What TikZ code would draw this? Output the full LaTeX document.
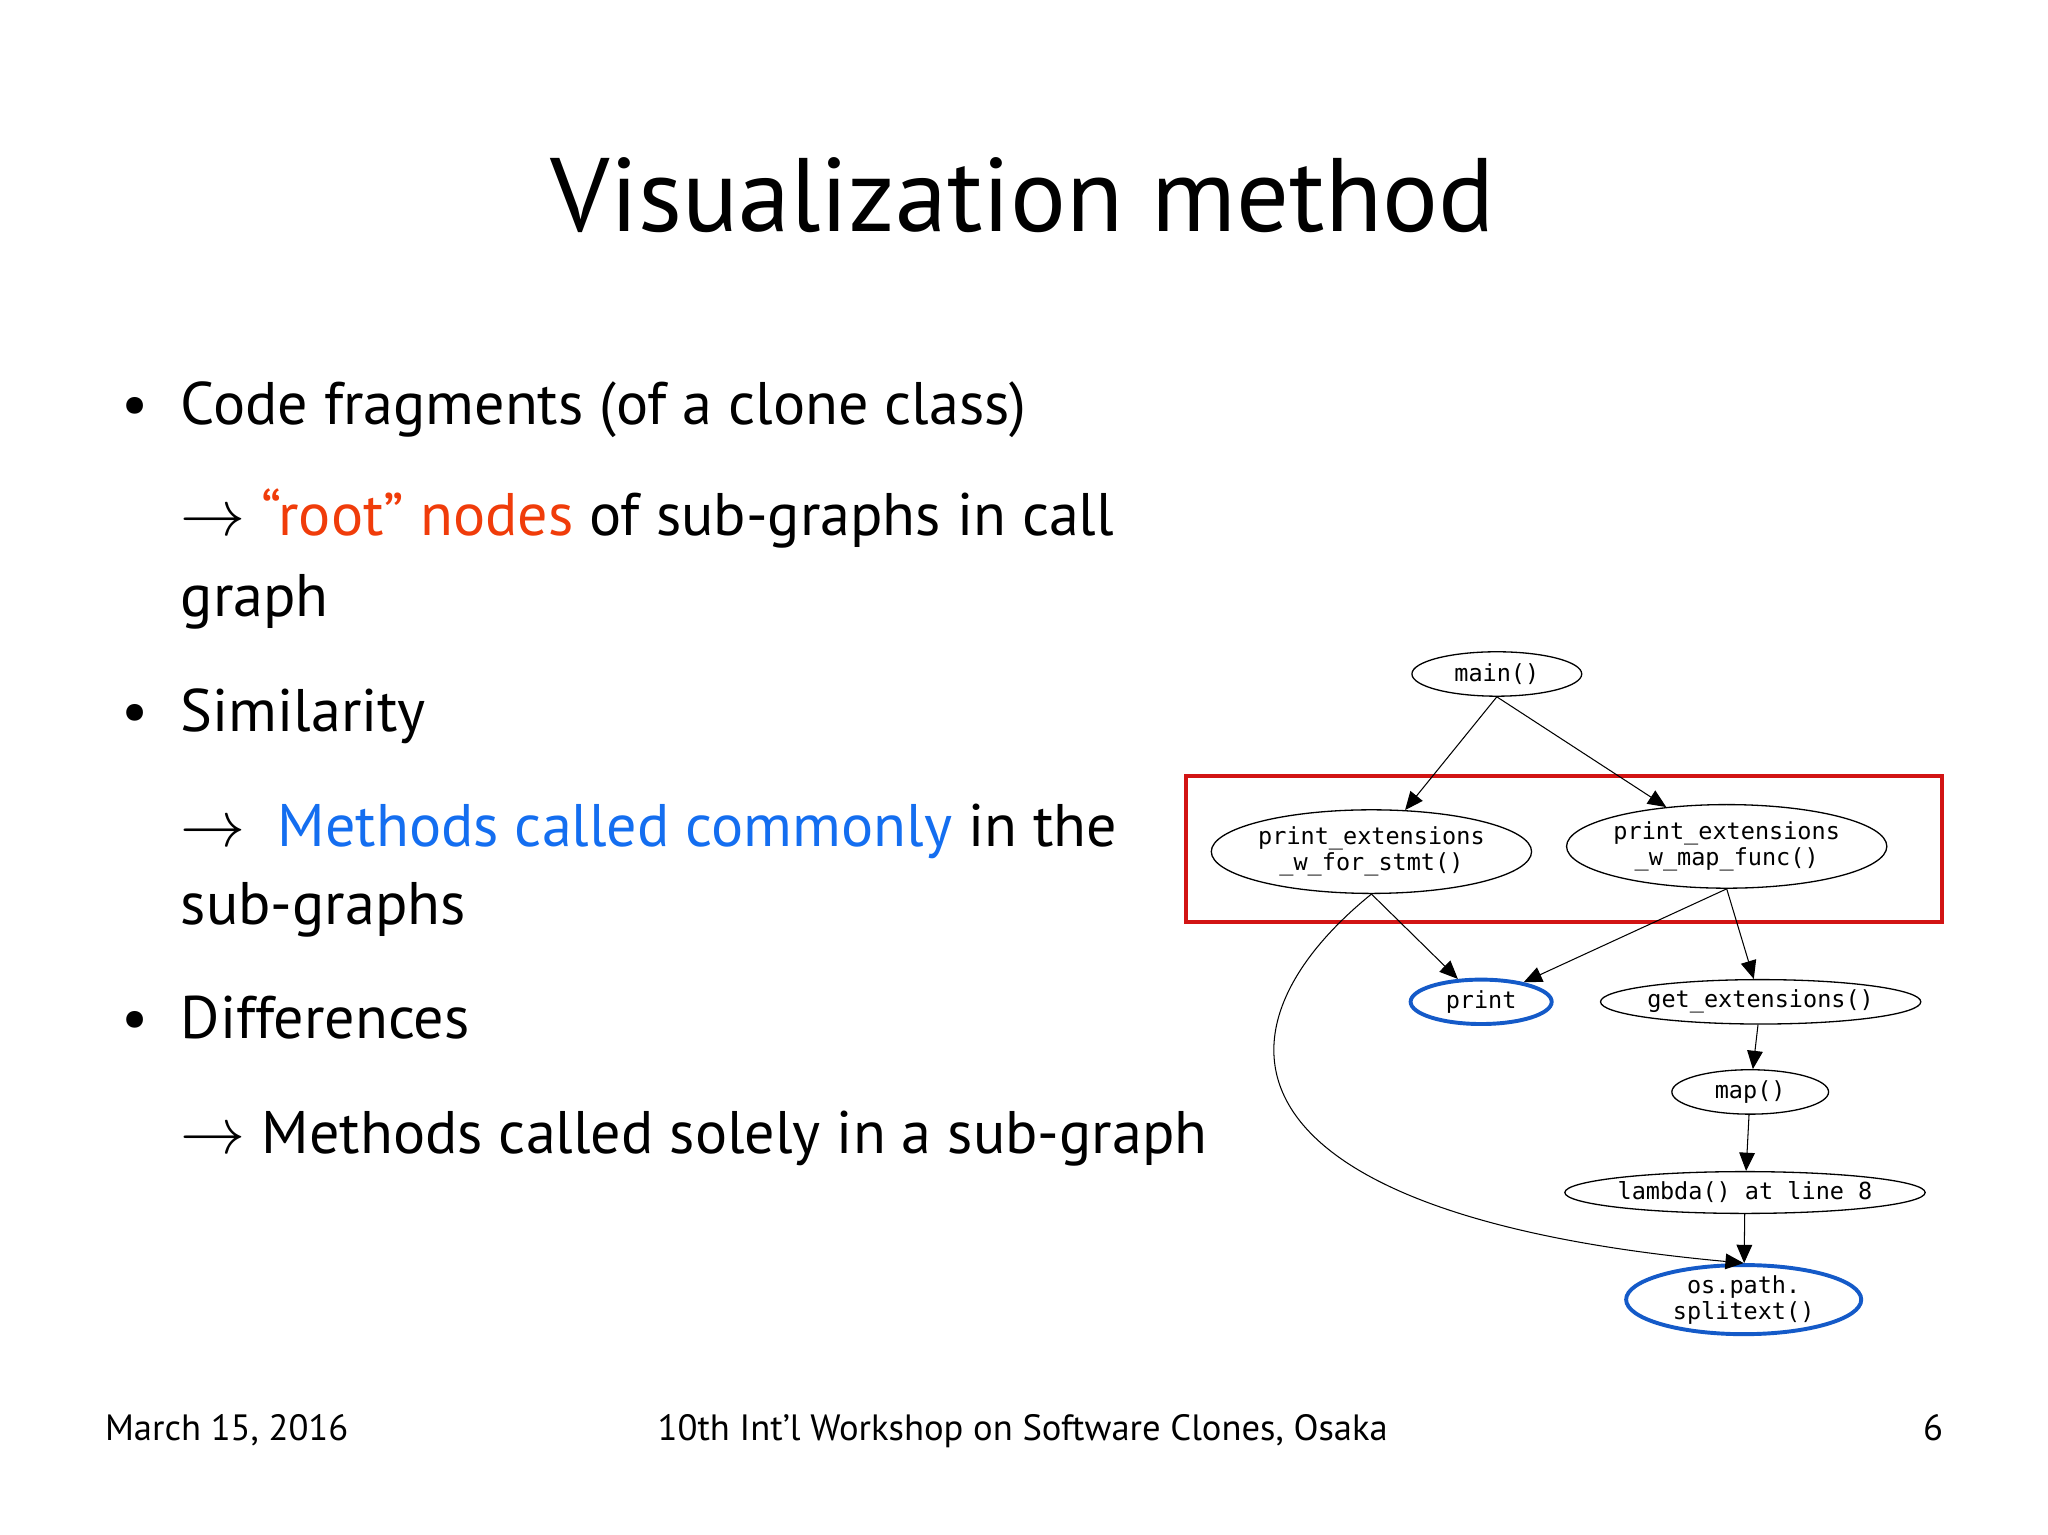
\documentclass[tikz,border=0pt]{standalone}
\usepackage{fontspec}
\setmainfont{PT Sans}
\setmonofont{DejaVu Sans Mono}
\usetikzlibrary{shapes.geometric,arrows.meta}
\definecolor{hired}{RGB}{240,60,10}
\definecolor{hiblue}{RGB}{20,110,240}
\definecolor{gblue}{RGB}{20,90,200}
\definecolor{boxred}{RGB}{210,20,20}
\tikzset{
  gn/.style={ellipse,draw,inner sep=0pt,font=\ttfamily\fontsize{9}{10}\selectfont,align=center,line width=0.5pt},
  hl/.style={gn,draw=gblue,line width=1.5pt},
  ed/.style={-{Triangle[length=7pt,width=6pt]},line width=0.4pt},
  txt/.style={anchor=base west,inner sep=0pt,font=\fontsize{23}{26}\selectfont},
  foot/.style={anchor=base,inner sep=0pt,font=\fontsize{14}{16}\selectfont}
}
\begin{document}
\begin{tikzpicture}[x=0.5pt,y=-0.5pt]
\useasboundingbox (0,0) rectangle (1568,1175);
\node[anchor=base,inner sep=0pt,font=\fontsize{40}{44}\selectfont] (title) at (783,177) {Visualization method};
\node[txt] (b1) at (93,325) {•};
\node[txt] (t1) at (138,325) {Code fragments (of a clone class)};
\node[txt] (t2) at (138,410) {$\rightarrow$ \textcolor{hired}{“root” nodes} of sub-graphs in call};
\node[txt] (t3) at (138,472) {graph};
\node[txt] (b2) at (93,560) {•};
\node[txt] (t4) at (138,560) {Similarity};
\node[txt] (t5) at (138,648) {$\rightarrow$\ \ \textcolor{hiblue}{Methods called commonly} in the};
\node[txt] (t6) at (138,708) {sub-graphs};
\node[txt] (b3) at (93,795) {•};
\node[txt] (t7) at (138,795) {Differences};
\node[txt] (t8) at (138,883) {$\rightarrow$ Methods called solely in a sub-graph};
\node[foot,anchor=base west] (f1) at (80,1103) {March 15, 2016};
\node[foot] (f2) at (783,1103) {10th Int'l Workshop on Software Clones, Osaka};
\node[foot,anchor=base east] (f3) at (1488,1103) {6};

\draw[boxred,line width=1.5pt] (908,594) rectangle (1487,706);
\node[gn,minimum width=65pt,minimum height=17pt] (main) at (1146,516) {main()};
\node[gn,minimum width=108pt,minimum height=32pt] (pefs) at (1050,652) {print\_extensions\\\_w\_for\_stmt()};
\node[gn,minimum width=103pt,minimum height=32pt] (pemf) at (1322,648) {print\_extensions\\\_w\_map\_func()};
\node[hl,minimum width=54pt,minimum height=17pt] (print) at (1134,767) {print};
\node[gn,minimum width=96pt,minimum height=17pt] (get) at (1348,767) {get\_extensions()};
\node[gn,minimum width=60pt,minimum height=17pt] (map) at (1340,836) {map()};
\node[gn,minimum width=125pt,minimum height=16pt] (lam) at (1336,913) {lambda() at line 8};
\node[hl,minimum width=90pt,minimum height=22pt] (os) at (1335,995) {os.path.\\splitext()};

\draw[ed] (main.south) -- (pefs);
\draw[ed] (main.south) -- (pemf);
\draw[ed] (pefs.south) -- (print);
\draw[ed] (pemf.south) -- (print);
\draw[ed] (pemf.south) -- (get);
\draw[ed] (get) -- (map);
\draw[ed] (map) -- (lam);
\draw[ed] (lam) -- (os);
\draw[ed] (pefs.south) .. controls (920,790) and (930,930) .. (os.north);
\end{tikzpicture}
\end{document}
